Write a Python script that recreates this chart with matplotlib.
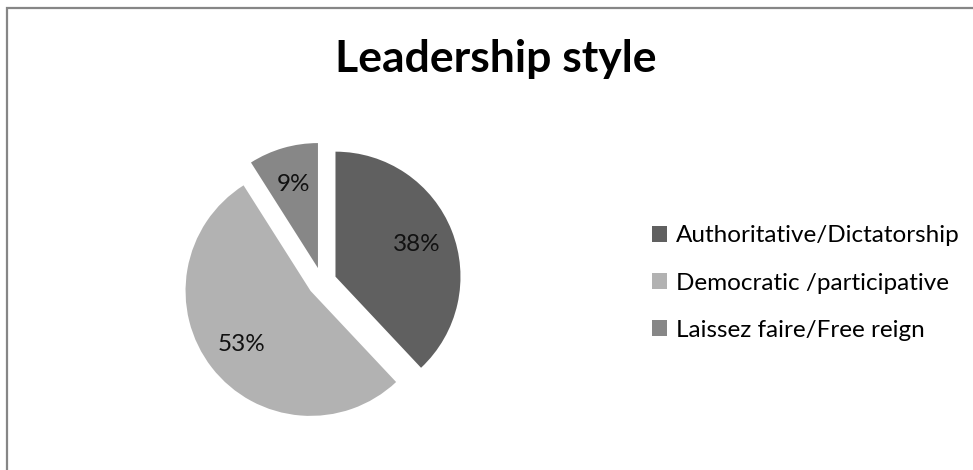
import matplotlib
matplotlib.use("Agg")
import matplotlib.pyplot as plt
from matplotlib.patches import Rectangle, Patch

categories = ["Authoritative/Dictatorship", "Democratic /participative", "Laissez faire/Free reign"]
shares = [38, 53, 9]
colors = ["#606060", "#b2b2b2", "#878787"]
title = "Leadership style"

W, H = 973, 470
fig = plt.figure(figsize=(W / 100, H / 100), dpi=100)
fig.patch.set_facecolor("white")

font = "Lato"

# chart-area frame (only top and left edges fall inside the canvas)
fig.patches.append(Rectangle((6.5 / W, -0.2), 1.5, 1.2 - 7.5 / H,
                             transform=fig.transFigure, fill=False,
                             edgecolor="#868686", linewidth=1.6))

# pie axes: centre at (322, 282) px, radius 125 px
cx, cy, half = 322, 282, 180
ax = fig.add_axes([(cx - half) / W, (H - cy - half) / H, 2 * half / W, 2 * half / H])
lim = half / 125
ax.set_aspect("equal")
ax.axis("off")

wedges, texts, autotexts = ax.pie(
    shares, colors=colors, startangle=90, counterclock=False,
    explode=[0.116] * len(shares), radius=1.0,
    autopct=lambda p: f"{p:.0f}%", pctdistance=0.7,
    wedgeprops=dict(linewidth=0),
    textprops=dict(fontsize=17.5, family=font, color="#111111"),
)
ax.set_xlim(-lim, lim)
ax.set_ylim(-lim, lim)

fig.text(496 / W, 1 - 59 / H, title, ha="center", va="center",
         fontsize=32, fontweight="bold", family=font, color="black")

handles = [Patch(facecolor=c, edgecolor="none") for c in colors]
leg = fig.legend(handles, categories, loc="center left",
                 bbox_to_anchor=(652 / W, 1 - 283 / H),
                 frameon=False, prop=dict(family=font, size=17.5),
                 handlelength=0.62, handleheight=0.62, handletextpad=0.35,
                 labelspacing=1.08, borderpad=0, borderaxespad=0)

fig.savefig("out.png", dpi=100, facecolor="white")
